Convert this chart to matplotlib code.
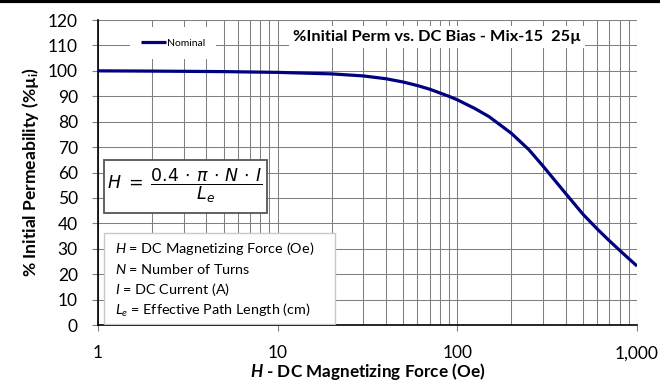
import matplotlib.pyplot as plt
from matplotlib.patches import Rectangle
from matplotlib.lines import Line2D
from matplotlib.ticker import FixedLocator, NullFormatter

plt.rcParams['font.family'] = ['Lato', 'DejaVu Sans']
plt.rcParams['mathtext.fontset'] = 'custom'
plt.rcParams['mathtext.rm'] = 'Lato'
plt.rcParams['mathtext.it'] = 'Lato:italic'
plt.rcParams['mathtext.bf'] = 'Lato:bold'
plt.rcParams['mathtext.bfit'] = 'Lato:bold:italic'
plt.rcParams['mathtext.fallback'] = 'stixsans'

# DC bias curve
H = [1, 2, 5, 10, 20, 30, 40, 50, 60, 70, 80, 90, 100, 125, 150, 200, 250, 300,
     400, 500, 600, 700, 800, 900, 1000]
perm = [100, 99.9, 99.7, 99.4, 98.8, 98.0, 96.9, 95.6, 94.2, 92.8, 91.3, 89.95, 88.6,
        85.2, 82.0, 75.4, 69.0, 62.5, 51.8, 43.6, 37.8, 33.2, 29.4, 26.1, 23.2]

yticks = list(range(0, 121, 10))
xticks = [1, 10, 100, 1000]
xticklabels = ['1', '10', '100', '1,000']
minor_x = [m * 10 ** d for d in range(3) for m in range(2, 10)]

fig = plt.figure(figsize=(6.6, 3.82), dpi=100)
ax = fig.add_axes([0.1485, 0.1492, 0.8167, 0.7984])

ax.plot(H, perm, color='#000080', lw=2.3, label='Nominal', zorder=4,
        solid_capstyle='butt', solid_joinstyle='round')
ax.set_xscale('log')
ax.set_xlim(1, 1000)
ax.set_ylim(0, 120)
ax.set_yticks(yticks)
ax.xaxis.set_major_locator(FixedLocator(xticks))
ax.set_xticklabels(xticklabels)
ax.xaxis.set_minor_locator(FixedLocator(minor_x))
ax.xaxis.set_minor_formatter(NullFormatter())
ax.tick_params(axis='x', which='minor', length=0)
ax.tick_params(axis='both', which='major', labelsize=12.5, length=4.5, width=0.8, color='#7f7f7f')
ax.tick_params(axis='x', which='major', pad=10)
ax.tick_params(axis='y', which='major', pad=10)

ax.grid(True, which='both', color='#808080', lw=0.75)
ax.set_axisbelow(True)
for s in ['top', 'right']:
    ax.spines[s].set_visible(False)
for s in ['left', 'bottom']:
    ax.spines[s].set_color('black')
    ax.spines[s].set_linewidth(1.2)

ax.set_ylabel('% Initial Permeability (%µ$_\\mathbf{i}$)', fontsize=12.6, fontweight='bold', labelpad=5)
ax.set_xlabel('$\\mathbfit{H}$ - DC Magnetizing Force (Oe)', fontsize=12.3, fontweight='bold', labelpad=0)

# legend
leg = ax.legend(loc='upper left', bbox_to_anchor=(0.059, 0.977), fontsize=7.5,
                frameon=True, fancybox=False, handlelength=2.4, handletextpad=0.05,
                borderpad=1.1, borderaxespad=0)
leg.get_frame().set_edgecolor('none')
leg.get_frame().set_facecolor('white')
leg.get_frame().set_alpha(1)

# title inside plot area
ax.text(0.629, 0.944, '%Initial Perm vs. DC Bias - Mix-15  25µ', transform=ax.transAxes,
        ha='center', va='center', fontsize=11.8, fontweight='bold', zorder=5,
        bbox=dict(facecolor='white', edgecolor='none', pad=3))

# formula box
ax.add_patch(Rectangle((0.011, 0.367), 0.302, 0.174, transform=ax.transAxes,
                       facecolor='white', edgecolor='#555555', lw=1.3, zorder=5))
ax.text(0.161, 0.456, r'$H\;=\;\dfrac{0.4\,\cdot\,\pi\,\cdot\,N\,\cdot\,I}{L_e}$',
        transform=ax.transAxes, ha='center', va='center', fontsize=12.5, zorder=6,
        math_fontfamily='dejavusans')

# definitions box
ax.add_patch(Rectangle((0.011, 0.003), 0.429, 0.299, transform=ax.transAxes,
                       facecolor='white', edgecolor='#c8c8c8', lw=1.0, zorder=5))
defs = ['$H$ = DC Magnetizing Force (Oe)', '$N$ = Number of Turns',
        '$I$ = DC Current (A)', '$L_e$ = Effective Path Length (cm)']
for i, t in enumerate(defs):
    ax.text(0.0315, 0.252 - i * 0.0677, t, transform=ax.transAxes, ha='left', va='center',
            fontsize=10.4, zorder=6)

# top black rule
fig.add_artist(Line2D([0, 1], [0.997, 0.997], transform=fig.transFigure, color='black', lw=3))

fig.savefig('out.png', dpi=100)
